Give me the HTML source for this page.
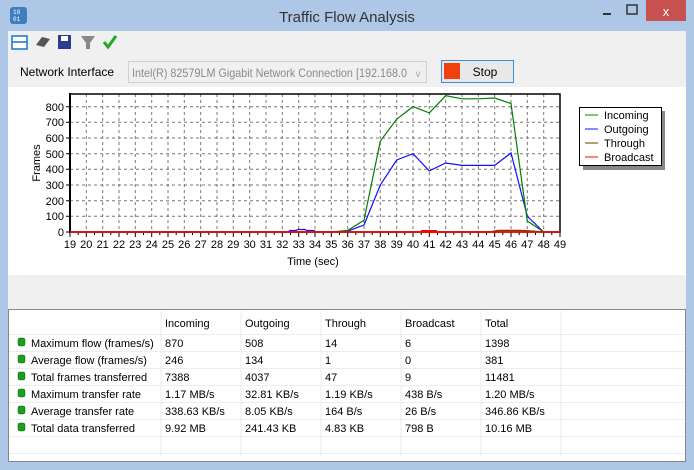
<!DOCTYPE html>
<html><head><meta charset="utf-8"><style>
body{margin:0;width:694px;height:470px;overflow:hidden;background:#aec7e6;font-family:"Liberation Sans",sans-serif}
svg{display:block}
</style></head><body>
<svg width="694" height="470" xmlns="http://www.w3.org/2000/svg" font-family="Liberation Sans, sans-serif">
<rect x="0" y="0" width="694" height="470" fill="#aec7e6"/>
<rect x="10" y="7" width="17" height="17" rx="3" fill="#3f7cc0"/>
<text x="13" y="14" font-size="6" fill="#fff" font-family="Liberation Mono">10</text>
<text x="13" y="21" font-size="6" fill="#fff" font-family="Liberation Mono">01</text>
<text x="347" y="22" font-size="15" fill="#333" text-anchor="middle">Traffic Flow Analysis</text>
<rect x="603" y="13" width="8" height="2" fill="#333"/>
<rect x="627" y="5" width="10" height="9" fill="none" stroke="#333" stroke-width="1.5"/>
<rect x="646" y="0" width="40" height="21" fill="#c75050"/>
<text x="666" y="16" font-size="13" fill="#fff" text-anchor="middle">x</text>
<rect x="8" y="31" width="678" height="431" fill="#f0f0f0"/>
<rect x="12" y="36" width="15" height="13" fill="#fff" stroke="#1a6fd6" stroke-width="1.5"/>
<line x1="12" y1="42" x2="27" y2="42" stroke="#1a6fd6" stroke-width="1.5"/>
<polygon points="36,45 42,37 50,39 44,47" fill="#555"/>
<rect x="58" y="35" width="13" height="14" fill="#2a3d8f"/>
<rect x="61" y="36" width="7" height="5" fill="#fff"/>
<polygon points="81,36 95,36 90,43 90,49 86,49 86,43" fill="#888"/>
<polyline points="104,42 108,47 116,36" fill="none" stroke="#22aa22" stroke-width="3"/>
<text x="20" y="76" font-size="12" fill="#000">Network Interface</text>
<rect x="128.5" y="61.5" width="298" height="21" fill="#f0f0f0" stroke="#d0d0d0"/>
<text x="132" y="77" font-size="12" fill="#8a8a8a" textLength="275" lengthAdjust="spacingAndGlyphs">Intel(R) 82579LM Gigabit Network Connection [192.168.0</text>
<text x="418" y="77" font-size="10" fill="#aaa" text-anchor="middle">v</text>
<rect x="441.5" y="60.5" width="72" height="22" fill="#e8e8e8" stroke="#3c8fdc"/>
<rect x="444" y="63" width="16" height="16" fill="#f04010"/>
<text x="485" y="76" font-size="12" fill="#000" text-anchor="middle">Stop</text>
<rect x="8" y="87" width="678" height="188" fill="#fff"/>
<g stroke="#777" stroke-width="1" stroke-dasharray="3,3">
<line x1="86.3" y1="94" x2="86.3" y2="232"/><line x1="102.7" y1="94" x2="102.7" y2="232"/><line x1="119" y1="94" x2="119" y2="232"/><line x1="135.3" y1="94" x2="135.3" y2="232"/><line x1="151.7" y1="94" x2="151.7" y2="232"/><line x1="168" y1="94" x2="168" y2="232"/><line x1="184.3" y1="94" x2="184.3" y2="232"/><line x1="200.7" y1="94" x2="200.7" y2="232"/><line x1="217" y1="94" x2="217" y2="232"/><line x1="233.3" y1="94" x2="233.3" y2="232"/><line x1="249.7" y1="94" x2="249.7" y2="232"/><line x1="266" y1="94" x2="266" y2="232"/><line x1="282.3" y1="94" x2="282.3" y2="232"/><line x1="298.7" y1="94" x2="298.7" y2="232"/><line x1="315" y1="94" x2="315" y2="232"/><line x1="331.3" y1="94" x2="331.3" y2="232"/><line x1="347.7" y1="94" x2="347.7" y2="232"/><line x1="364" y1="94" x2="364" y2="232"/><line x1="380.3" y1="94" x2="380.3" y2="232"/><line x1="396.7" y1="94" x2="396.7" y2="232"/><line x1="413" y1="94" x2="413" y2="232"/><line x1="429.3" y1="94" x2="429.3" y2="232"/><line x1="445.7" y1="94" x2="445.7" y2="232"/><line x1="462" y1="94" x2="462" y2="232"/><line x1="478.3" y1="94" x2="478.3" y2="232"/><line x1="494.7" y1="94" x2="494.7" y2="232"/><line x1="511" y1="94" x2="511" y2="232"/><line x1="527.3" y1="94" x2="527.3" y2="232"/><line x1="543.7" y1="94" x2="543.7" y2="232"/>
<line x1="70" y1="216.3" x2="560" y2="216.3"/><line x1="70" y1="200.7" x2="560" y2="200.7"/><line x1="70" y1="185" x2="560" y2="185"/><line x1="70" y1="169.3" x2="560" y2="169.3"/><line x1="70" y1="153.7" x2="560" y2="153.7"/><line x1="70" y1="138" x2="560" y2="138"/><line x1="70" y1="122.3" x2="560" y2="122.3"/><line x1="70" y1="106.7" x2="560" y2="106.7"/>
</g>
<rect x="70" y="94" width="490" height="138" fill="none" stroke="#000" stroke-width="1.5"/>
<line x1="70" y1="93" x2="70" y2="233" stroke="#000" stroke-width="2"/>
<g stroke="#000" stroke-width="1">
<path d="M70 232v5M86.3 232v5M102.7 232v5M119 232v5M135.3 232v5M151.7 232v5M168 232v5M184.3 232v5M200.7 232v5M217 232v5M233.3 232v5M249.7 232v5M266 232v5M282.3 232v5M298.7 232v5M315 232v5M331.3 232v5M347.7 232v5M364 232v5M380.3 232v5M396.7 232v5M413 232v5M429.3 232v5M445.7 232v5M462 232v5M478.3 232v5M494.7 232v5M511 232v5M527.3 232v5M543.7 232v5M560 232v5"/>
<path d="M78.2 232v3M94.5 232v3M110.8 232v3M127.2 232v3M143.5 232v3M159.8 232v3M176.2 232v3M192.5 232v3M208.8 232v3M225.2 232v3M241.5 232v3M257.8 232v3M274.2 232v3M290.5 232v3M306.8 232v3M323.2 232v3M339.5 232v3M355.8 232v3M372.2 232v3M388.5 232v3M404.8 232v3M421.2 232v3M437.5 232v3M453.8 232v3M470.2 232v3M486.5 232v3M502.8 232v3M519.2 232v3M535.5 232v3M551.8 232v3"/>
<path d="M66 232h4M66 216.3h4M66 200.7h4M66 185h4M66 169.3h4M66 153.7h4M66 138h4M66 122.3h4M66 106.7h4"/>
</g>
<g font-size="11" fill="#000" text-anchor="end">
<text x="64" y="236">0</text><text x="64" y="220">100</text><text x="64" y="205">200</text><text x="64" y="189">300</text><text x="64" y="173">400</text><text x="64" y="158">500</text><text x="64" y="142">600</text><text x="64" y="126">700</text><text x="64" y="111">800</text>
</g>
<g font-size="11" fill="#000" text-anchor="middle">
<text x="70" y="248">19</text><text x="86.3" y="248">20</text><text x="102.7" y="248">21</text><text x="119" y="248">22</text><text x="135.3" y="248">23</text><text x="151.7" y="248">24</text><text x="168" y="248">25</text><text x="184.3" y="248">26</text><text x="200.7" y="248">27</text><text x="217" y="248">28</text><text x="233.3" y="248">29</text><text x="249.7" y="248">30</text><text x="266" y="248">31</text><text x="282.3" y="248">32</text><text x="298.7" y="248">33</text><text x="315" y="248">34</text><text x="331.3" y="248">35</text><text x="347.7" y="248">36</text><text x="364" y="248">37</text><text x="380.3" y="248">38</text><text x="396.7" y="248">39</text><text x="413" y="248">40</text><text x="429.3" y="248">41</text><text x="445.7" y="248">42</text><text x="462" y="248">43</text><text x="478.3" y="248">44</text><text x="494.7" y="248">45</text><text x="511" y="248">46</text><text x="527.3" y="248">47</text><text x="543.7" y="248">48</text><text x="560" y="248">49</text>
<text x="313" y="265">Time (sec)</text>
<text transform="translate(40,163) rotate(-90)">Frames</text>
</g>
<polyline fill="none" stroke="#7a3a00" stroke-width="1.5" points="70,232 490,232 498,230.5 520,230.5 530,231 543.7,232 560,232"/>
<polyline fill="none" stroke="#1010ff" stroke-width="1.2" points="70,232 288,232 290,230.5 296,230.5 298,229.5 305,229.5 307,230.5 314,230.5 316,232 331.3,232 347.7,231.2 364,225 380.3,185 396.7,160 413,153.7 429.3,170.9 445.7,163 462,165.4 494.7,165.4 511,152.9 527.3,216.3 543.7,232 560,232"/>
<polyline fill="none" stroke="#008000" stroke-width="1.2" points="70,232 331.3,232 347.7,230.4 364,220.2 380.3,141.1 396.7,119.2 413,106.6 429.3,112.9 445.7,95.7 462,98.8 478.3,98.8 494.7,98 511,103.5 527.3,221 543.7,232"/>
<line x1="70" y1="232" x2="560" y2="232" stroke="#ff0000" stroke-width="1.5"/>
<rect x="421" y="230" width="16" height="2" fill="#ff0000"/>
<rect x="583" y="111" width="82" height="59" fill="#888"/>
<rect x="579.5" y="107.5" width="82" height="58" fill="#fff" stroke="#000"/>
<g font-size="11" fill="#000">
<line x1="585" y1="115" x2="598" y2="115" stroke="#008000"/><text x="604" y="119">Incoming</text>
<line x1="585" y1="129" x2="598" y2="129" stroke="#1010ff"/><text x="604" y="133">Outgoing</text>
<line x1="585" y1="143" x2="598" y2="143" stroke="#7a3a00"/><text x="604" y="147">Through</text>
<line x1="585" y1="157" x2="598" y2="157" stroke="#ff0000"/><text x="604" y="161">Broadcast</text>
</g>
<rect x="8.5" y="309.5" width="677" height="152" fill="#fff" stroke="#888"/>
<g stroke="#e6eef8" stroke-width="1">
<path d="M161 311v145M241 311v145M321 311v145M401 311v145M481 311v145M561 311v145"/>
<path d="M9 334.5h676M9 351.5h676M9 368.5h676M9 385.5h676M9 402.5h676M9 419.5h676M9 436.5h676M9 453.5h676"/>
</g>
<g font-size="11" fill="#000">
<text x="165" y="327">Incoming</text><text x="245" y="327">Outgoing</text><text x="325" y="327">Through</text><text x="405" y="327">Broadcast</text><text x="485" y="327">Total</text>
<text x="31" y="347">Maximum flow (frames/s)</text><text x="165" y="347">870</text><text x="245" y="347">508</text><text x="325" y="347">14</text><text x="405" y="347">6</text><text x="485" y="347">1398</text>
<text x="31" y="364">Average flow (frames/s)</text><text x="165" y="364">246</text><text x="245" y="364">134</text><text x="325" y="364">1</text><text x="405" y="364">0</text><text x="485" y="364">381</text>
<text x="31" y="381">Total frames transferred</text><text x="165" y="381">7388</text><text x="245" y="381">4037</text><text x="325" y="381">47</text><text x="405" y="381">9</text><text x="485" y="381">11481</text>
<text x="31" y="398">Maximum transfer rate</text><text x="165" y="398">1.17 MB/s</text><text x="245" y="398">32.81 KB/s</text><text x="325" y="398">1.19 KB/s</text><text x="405" y="398">438 B/s</text><text x="485" y="398">1.20 MB/s</text>
<text x="31" y="415">Average transfer rate</text><text x="165" y="415">338.63 KB/s</text><text x="245" y="415">8.05 KB/s</text><text x="325" y="415">164 B/s</text><text x="405" y="415">26 B/s</text><text x="485" y="415">346.86 KB/s</text>
<text x="31" y="432">Total data transferred</text><text x="165" y="432">9.92 MB</text><text x="245" y="432">241.43 KB</text><text x="325" y="432">4.83 KB</text><text x="405" y="432">798 B</text><text x="485" y="432">10.16 MB</text>
</g>
<g fill="#1e9e1e" stroke="#0a5a0a" stroke-width="0.5">
<rect x="18" y="338" width="7" height="8" rx="2"/><rect x="18" y="355" width="7" height="8" rx="2"/><rect x="18" y="372" width="7" height="8" rx="2"/><rect x="18" y="389" width="7" height="8" rx="2"/><rect x="18" y="406" width="7" height="8" rx="2"/><rect x="18" y="423" width="7" height="8" rx="2"/>
</g>
</svg>
</body></html>
